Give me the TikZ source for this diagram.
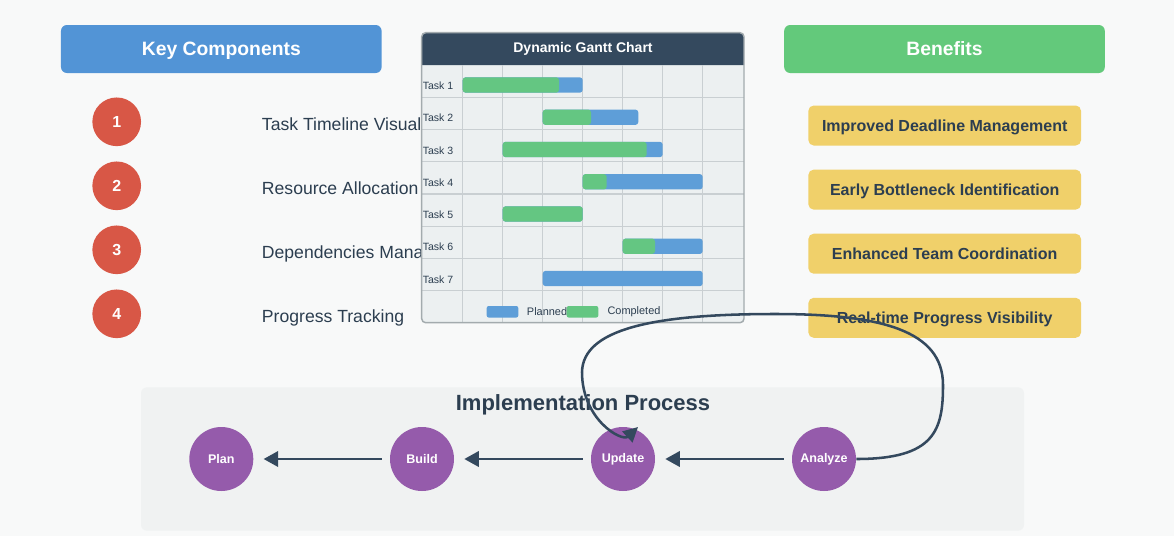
\documentclass[tikz,border=0pt]{standalone}
\usepackage{fontspec}
\setmainfont{Liberation Sans}
\usetikzlibrary{arrows.meta}
\definecolor{bgc}{HTML}{F8F9F9}
\definecolor{panelc}{HTML}{F0F2F2}
\definecolor{hdrblue}{HTML}{5294D6}
\definecolor{hdrgreen}{HTML}{63C97B}
\definecolor{redc}{HTML}{D85746}
\definecolor{yellowc}{HTML}{F0D06A}
\definecolor{darkc}{HTML}{2C3E50}
\definecolor{ganttdark}{HTML}{34495E}
\definecolor{ganttbody}{HTML}{ECF0F1}
\definecolor{gridc}{HTML}{C9CFD2}
\definecolor{framec}{HTML}{A3ABAE}
\definecolor{barblue}{HTML}{5E9ED8}
\definecolor{bargreen}{HTML}{64C682}
\definecolor{purplec}{HTML}{955BAB}
\tikzset{
  header/.style={rounded corners=4.5pt, minimum width=240.5pt, minimum height=36pt, inner sep=0pt,
    text=white, font=\fontsize{14.5}{16}\selectfont\bfseries, text height=10.4pt, text depth=0pt},
  numcircle/.style={circle, fill=redc, minimum size=36.5pt, inner sep=0pt, text=white,
    font=\fontsize{12}{14}\selectfont\bfseries},
  complabel/.style={anchor=base west, inner sep=0pt, text=darkc, font=\fontsize{13.2}{15}\selectfont},
  benefitbox/.style={fill=yellowc, rounded corners=4pt, minimum width=204.5pt, minimum height=30pt,
    inner sep=0pt, text=darkc, font=\fontsize{12}{14}\selectfont\bfseries, text height=8.6pt, text depth=0pt},
  tasklabel/.style={anchor=base west, inner sep=0pt, text=darkc, font=\fontsize{7.9}{9}\selectfont},
  legendtext/.style={anchor=west, inner sep=0pt, text=darkc, font=\fontsize{8.2}{10}\selectfont},
  procstep/.style={circle, fill=purplec, minimum size=48pt, inner sep=0pt, text=white,
    font=\fontsize{9.4}{11}\selectfont\bfseries},
  flowarrow/.style={draw=ganttdark, line width=2.2pt, -{Triangle[length=11pt,width=11.5pt]},
    shorten <=6pt, shorten >=7.5pt},
  curvearrow/.style={draw=ganttdark, line width=1.9pt, -{Triangle[length=11pt,width=11pt]}},
  gridline/.style={draw=gridc, line width=0.8pt},
}
\begin{document}
\begin{tikzpicture}[x=0.75pt,y=-0.75pt]
\useasboundingbox (0,0) rectangle (1174,536);
\fill[bgc] (0,0) rectangle (1174,536);
% process panel
\fill[panelc, rounded corners=4.5pt] (141,387.3) rectangle (1024,530.7);
% headers
\node[header, fill=hdrblue] (keyhdr) at (221.3,49) {Key Components};
\node[header, fill=hdrgreen] (benhdr) at (944.5,49) {Benefits};
% key components
\foreach \i/\t [count=\k from 0] in {1/Task Timeline Visualization,2/Resource Allocation,3/Dependencies Management,4/Progress Tracking}{
  \node[numcircle] (num\i) at (116.7,{121.8+64*\k}) {\i};
  \node[complabel] (comp\i) at (261.7,{130+64*\k}) {\t};
}
% gantt chart
\fill[ganttbody, rounded corners=3pt] (421.7,32.7) rectangle (744,322.7);
\fill[ganttdark] (421.7,65) [rounded corners=3pt] -- (421.7,32.7) -- (744,32.7) [sharp corners] -- (744,65) -- cycle;
\node[text=white, font=\fontsize{10.5}{12}\selectfont\bfseries, inner sep=0pt] (gtitle) at (583,49) {Dynamic Gantt Chart};
\foreach \xx in {462.7,502.7,542.7,582.7,622.7,662.7,702.7}{
  \draw[gridline] (\xx,65) -- (\xx,322.7);
}
\foreach \k in {1,...,7}{
  \draw[gridline] (421.7,{65+32.25*\k}) -- (744,{65+32.25*\k});
}
\foreach \k/\a/\b/\c in {0/462.7/582.7/559,1/542.7/638.3/591,2/502.7/662.7/646.7,3/582.7/702.7/606.7,4/502.7/582.7/582.7,5/622.7/702.7/655,6/542.7/702.7/542.7}{
  \fill[barblue, rounded corners=2.2pt] (\a,{77.3+32.25*\k}) rectangle (\b,{92.7+32.25*\k});
  \ifdim \c pt>\a pt
    \fill[bargreen, rounded corners=2.2pt] (\a,{77.3+32.25*\k}) rectangle (\c,{92.7+32.25*\k});
  \fi
}
\foreach \k in {1,...,7}{
  \node[tasklabel] (task\k) at (422.5,{89.5+32.25*(\k-1)}) {Task \k};
}
\fill[barblue, rounded corners=1.5pt] (486.7,306) rectangle (518.3,317.5);
\node[legendtext] (lgplanned) at (526.7,312) {Planned};
\fill[bargreen, rounded corners=1.5pt] (566.7,306) rectangle (598.3,317.5);
\node[legendtext] (lgcompleted) at (607.3,312) {Completed};
\draw[framec, line width=1.1pt, rounded corners=3pt] (421.7,32.7) rectangle (744,322.7);
% benefits
\node[benefitbox] (ben1) at (944.7,125.5) {Improved Deadline Management};
\node[benefitbox] (ben2) at (944.7,189.6) {Early Bottleneck Identification};
\node[benefitbox] (ben3) at (944.7,253.7) {Enhanced Team Coordination};
\node[benefitbox] (ben4) at (944.7,317.8) {Real-time Progress Visibility};
% process
\node[anchor=base, inner sep=0pt, text=darkc, font=\fontsize{16.5}{19}\selectfont\bfseries] (proctitle) at (583,410.7) {Implementation Process};
\node[procstep] (plan) at (221.3,459) {Plan};
\node[procstep] (build) at (422,459) {Build};
\node[procstep] (update) at (623,459) {Update};
\node[procstep] (analyze) at (824,459) {Analyze};
\draw[flowarrow] (build.west) -- (plan.east);
\draw[flowarrow] (update.west) -- (build.east);
\draw[flowarrow] (analyze.west) -- (update.east);
\draw[curvearrow] (analyze.east) .. controls (935,459) and (943,430) .. (943,385)
  .. controls (943,330) and (880,314) .. (775,314)
  .. controls (650,314) and (583,330) .. (582,372)
  .. controls (582,420) and (622,442) .. (638,427);
\end{tikzpicture}
\end{document}
